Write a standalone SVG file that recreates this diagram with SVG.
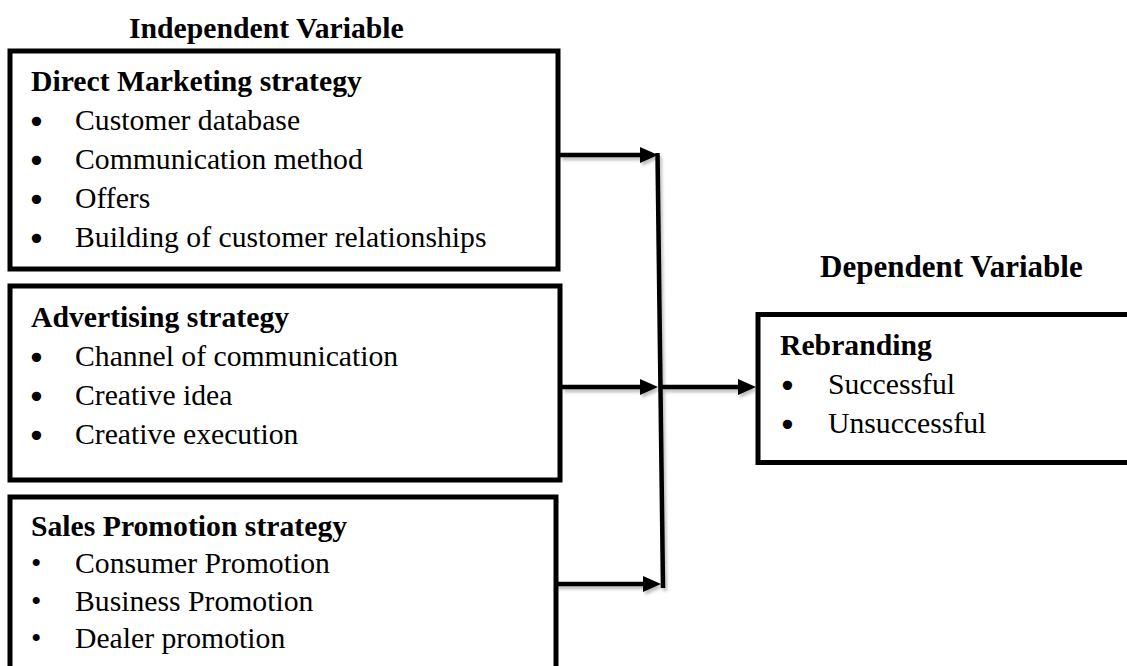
<svg xmlns="http://www.w3.org/2000/svg" width="1127" height="666" viewBox="0 0 1127 666">
  <style>
    .box { fill: #ffffff; stroke: #000000; stroke-width: 5; }
    .title { font-family: "Liberation Serif", "Times New Roman", serif; font-weight: bold; font-size: 29.7px; fill: #000; }
    .head { font-family: "Liberation Serif", "Times New Roman", serif; font-weight: bold; font-size: 29.7px; fill: #000; }
    .item { font-family: "Liberation Serif", "Times New Roman", serif; font-size: 29.7px; fill: #000; }
    .bul { font-family: "DejaVu Sans", sans-serif; font-size: 32px; fill: #000; }
    .bul-s { font-family: "Liberation Serif", "Times New Roman", serif; font-size: 29.7px; fill: #000; }
    .conn { fill: none; stroke: #000000; stroke-width: 4.5; }
  </style>
  <defs>
    <marker id="arrow" markerUnits="userSpaceOnUse" markerWidth="18" markerHeight="16" refX="10" refY="8" orient="auto">
      <path d="M0,0 L18,8 L0,16 Z" fill="#000000"/>
    </marker>
    <filter id="shadow" x="-10%" y="-10%" width="130%" height="130%">
      <feDropShadow dx="2" dy="3" stdDeviation="1.5" flood-color="#000000" flood-opacity="0.25"/>
    </filter>
  </defs>
  <rect width="1127" height="666" fill="#ffffff"/>

  <text class="title" x="129" y="38">Independent Variable</text>
  <text class="title" x="820" y="277" style="font-size:31px">Dependent Variable</text>

  <g id="direct-marketing">
    <rect class="box" x="10" y="51" width="548" height="218"/>
    <text class="head" x="31" y="91">Direct Marketing strategy</text>
    <text class="bul" x="27" y="133">•</text>
    <text class="item" x="75" y="130">Customer database</text>
    <text class="bul" x="27" y="172">•</text>
    <text class="item" x="75" y="169">Communication method</text>
    <text class="bul" x="27" y="211">•</text>
    <text class="item" x="75" y="208">Offers</text>
    <text class="bul" x="27" y="250">•</text>
    <text class="item" x="75" y="247">Building of customer relationships</text>
  </g>

  <g id="advertising">
    <rect class="box" x="10" y="286" width="550" height="194"/>
    <text class="head" x="31" y="327">Advertising strategy</text>
    <text class="bul" x="27" y="369">•</text>
    <text class="item" x="75" y="366">Channel of communication</text>
    <text class="bul" x="27" y="408">•</text>
    <text class="item" x="75" y="405">Creative idea</text>
    <text class="bul" x="27" y="447">•</text>
    <text class="item" x="75" y="444">Creative execution</text>
  </g>

  <g id="sales-promotion">
    <rect class="box" x="10" y="497" width="546" height="200"/>
    <text class="head" x="31" y="536">Sales Promotion strategy</text>
    <text class="bul-s" x="31" y="573">•</text>
    <text class="item" x="75" y="573">Consumer Promotion</text>
    <text class="bul-s" x="31" y="611">•</text>
    <text class="item" x="75" y="611">Business Promotion</text>
    <text class="bul-s" x="31" y="648">•</text>
    <text class="item" x="75" y="648">Dealer promotion</text>
  </g>

  <g id="rebranding">
    <rect class="box" x="758" y="314.5" width="420" height="148"/>
    <text class="head" x="780" y="355">Rebranding</text>
    <text class="bul" x="778" y="397">•</text>
    <text class="item" x="828" y="394">Successful</text>
    <text class="bul" x="778" y="436">•</text>
    <text class="item" x="828" y="433">Unsuccessful</text>
  </g>

  <g id="connectors" filter="url(#shadow)">
    <line class="conn" x1="657.5" y1="153" x2="663" y2="588"/>
    <line class="conn" x1="560" y1="155" x2="650" y2="155" marker-end="url(#arrow)"/>
    <line class="conn" x1="562" y1="387" x2="650" y2="387" marker-end="url(#arrow)"/>
    <line class="conn" x1="662" y1="387" x2="748" y2="387" marker-end="url(#arrow)"/>
    <line class="conn" x1="556" y1="584" x2="653" y2="584" marker-end="url(#arrow)"/>
  </g>
</svg>
